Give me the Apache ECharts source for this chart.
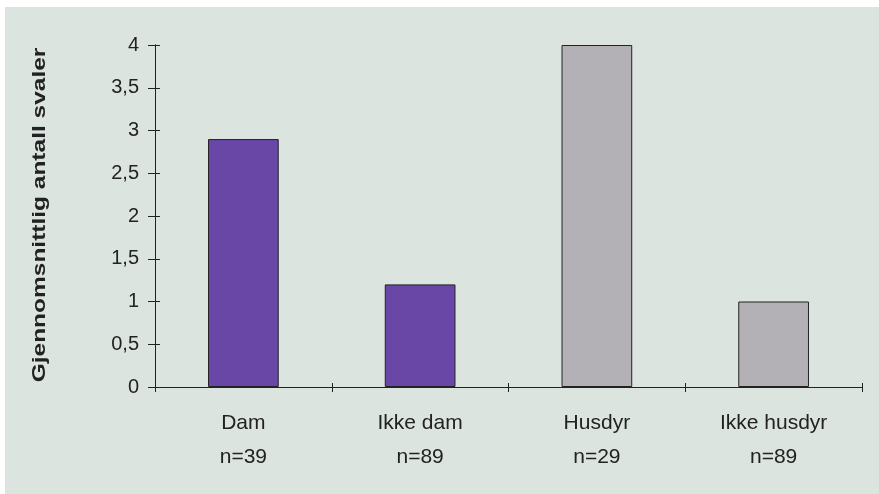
<!DOCTYPE html>
<html><head><meta charset="utf-8">
<script src="https://cdn.jsdelivr.net/npm/echarts@6/dist/echarts.min.js"></script>
<style>
html,body{margin:0;padding:0;background:#ffffff;width:879px;height:494px;overflow:hidden}
#c{position:absolute;left:5px;top:7px;width:874px;height:487px;background:#dce4e0}
</style></head><body>
<div id="c"></div>
<script>
var categories = ['Dam\nn=39', 'Ikke dam\nn=89', 'Husdyr\nn=29', 'Ikke husdyr\nn=89'];
var values = [2.9, 1.2, 4.0, 1.0];
var barColors = ['#6847a6', '#6847a6', '#b3b1b6', '#b3b1b6'];
var yTicks = [0, 0.5, 1, 1.5, 2, 2.5, 3, 3.5, 4];
var yTitle = 'Gjennomsnittlig antall svaler';

var chart = echarts.init(document.getElementById('c'), null, {renderer:'canvas'});
var font = 'Liberation Sans, Arial, sans-serif';
var grid = {left:150, right:17, top:38, bottom:107};
chart.setOption({
  animation:false,
  grid: grid,
  graphic:[{
    type:'text', z:10,
    rotation: Math.PI/2, scaleX:1.36,
    x:35, y:208,
    style:{text:yTitle, font:'bold 18px Liberation Sans, Arial, sans-serif', fill:'#222', align:'center', verticalAlign:'middle'}
  }],
  xAxis: [{
    type:'category', data: categories,
    axisLine:{lineStyle:{color:'#222', width:1}},
    axisTick:{show:true, length:5, lineStyle:{color:'#222'}},
    axisLabel:{color:'#222', fontFamily:font, fontSize:21, lineHeight:34, margin:19}
  },{
    type:'category', data: categories, position:'bottom', gridIndex:0,
    axisLine:{show:true, onZero:false, lineStyle:{color:'#222'}},
    axisTick:{show:true, inside:true, length:4, lineStyle:{color:'#222'}},
    axisLabel:{show:false}
  }],
  yAxis: [{
    type:'value', min:0, max:4, interval:0.5,
    axisLine:{show:true, lineStyle:{color:'#222'}},
    axisTick:{show:true, length:7, lineStyle:{color:'#222'}},
    splitLine:{show:false},
    axisLabel:{color:'#222', fontFamily:font, fontSize:20, margin:16,
      formatter:function(v){return String(v).replace('.', ',');}}
  },{
    type:'value', min:0, max:4, interval:0.5, position:'left', gridIndex:0,
    axisLine:{show:true, onZero:false, lineStyle:{color:'#222'}},
    axisTick:{show:true, inside:true, length:5, lineStyle:{color:'#222'}},
    splitLine:{show:false}, axisLabel:{show:false}
  }],
  series:[{
    type:'bar', xAxisIndex:0, yAxisIndex:0, barWidth:'40%',
    data: values.map(function(v,i){return {value:v, itemStyle:{color:barColors[i]}};}),
    itemStyle:{borderColor:'#222', borderWidth:1}
  }]
});
</script></body></html>
